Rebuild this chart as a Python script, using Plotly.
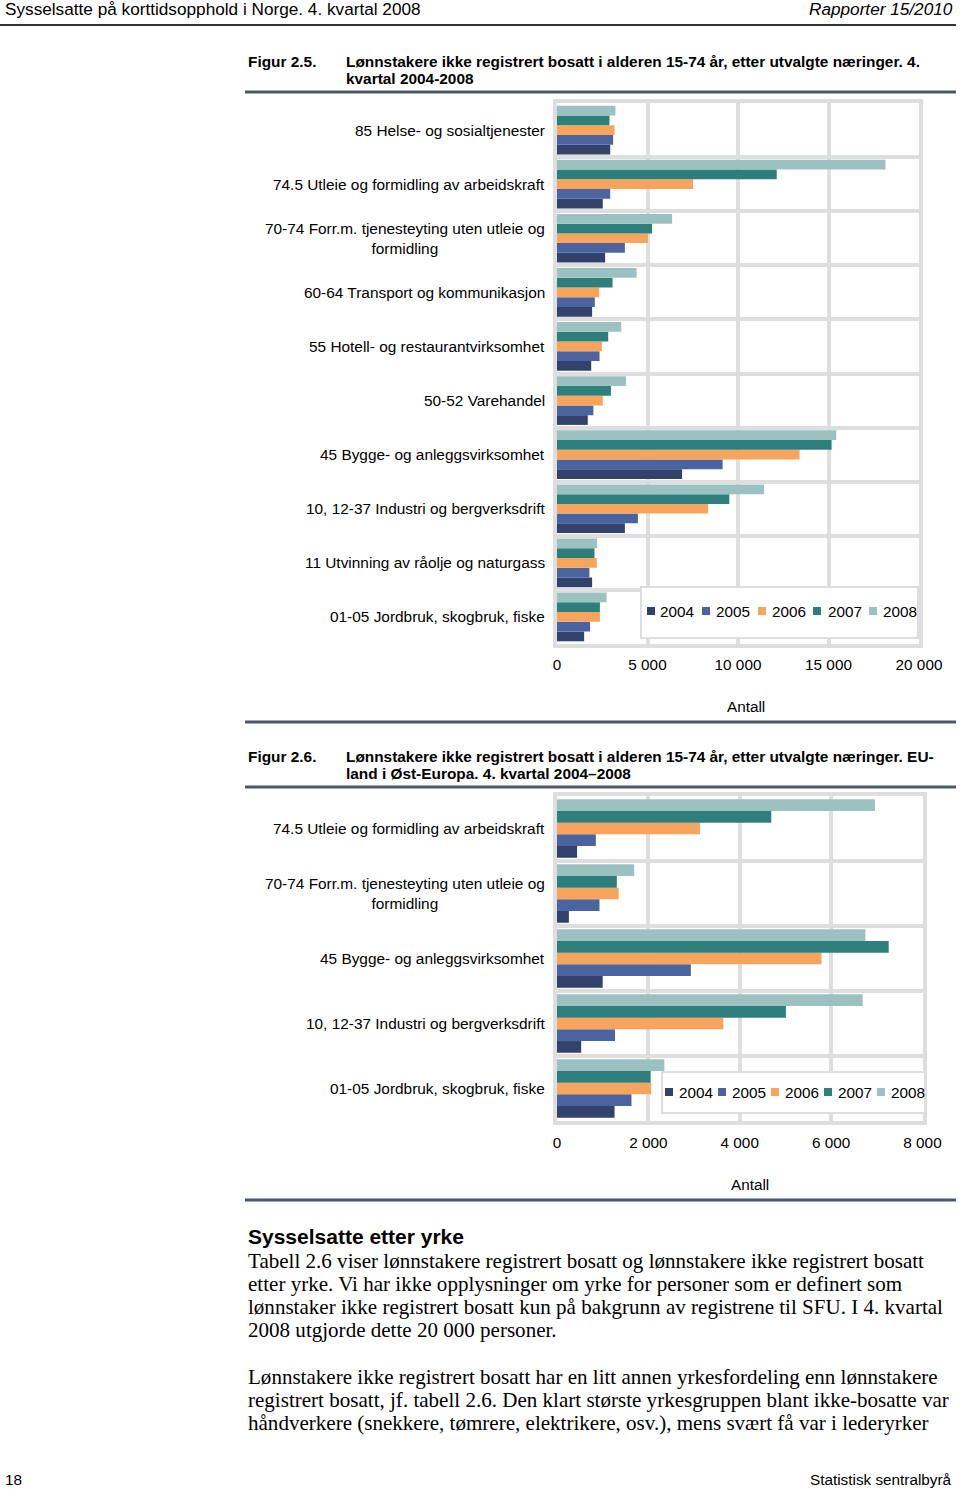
import plotly.graph_objects as go

W, H = 960, 1489

years = ["2004", "2005", "2006", "2007", "2008"]
colors = ["#33426b", "#4b64a0", "#f7a55c", "#2e7f7c", "#9bc2c1"]

# Figure 2.5 data (top to bottom)
cats1 = [
    "85 Helse- og sosialtjenester",
    "74.5 Utleie og formidling av arbeidskraft",
    "70-74 Forr.m. tjenesteyting uten utleie og<br>formidling",
    "60-64 Transport og kommunikasjon",
    "55 Hotell- og restaurantvirksomhet",
    "50-52 Varehandel",
    "45 Bygge- og anleggsvirksomhet",
    "10, 12-37 Industri og bergverksdrift",
    "11 Utvinning av råolje og naturgass",
    "01-05 Jordbruk, skogbruk, fiske",
]
vals1 = {
    "2004": [2940, 2530, 2660, 1940, 1890, 1700, 6910, 3750, 1940, 1500],
    "2005": [3100, 2940, 3750, 2090, 2350, 2010, 9150, 4470, 1790, 1830],
    "2006": [3180, 7520, 5030, 2330, 2480, 2530, 13400, 8350, 2200, 2370],
    "2007": [2900, 12140, 5250, 3070, 2830, 2980, 15170, 9520, 2070, 2370],
    "2008": [3230, 18150, 6360, 4400, 3550, 3810, 15430, 11440, 2220, 2740],
}
ticks1 = [0, 5000, 10000, 15000, 20000]
ticktext1 = ["0", "5 000", "10 000", "15 000", "20 000"]

# Figure 2.6 data (top to bottom)
cats2 = [
    "74.5 Utleie og formidling av arbeidskraft",
    "70-74 Forr.m. tjenesteyting uten utleie og<br>formidling",
    "45 Bygge- og anleggsvirksomhet",
    "10, 12-37 Industri og bergverksdrift",
    "01-05 Jordbruk, skogbruk, fiske",
]
vals2 = {
    "2004": [440, 260, 1000, 530, 1260],
    "2005": [850, 930, 2930, 1270, 1630],
    "2006": [3130, 1350, 5790, 3640, 2060],
    "2007": [4690, 1310, 7260, 5010, 2050],
    "2008": [6960, 1690, 6750, 6690, 2350],
}
ticks2 = [0, 2000, 4000, 6000, 8000]
ticktext2 = ["0", "2 000", "4 000", "6 000", "8 000"]

SANS = "Liberation Sans, Arial, sans-serif"
SERIF = "Liberation Serif, Times New Roman, serif"
GRID = "#dedede"
FS = 15.3


def px(x):
    return x / W


def py(y):
    return 1 - y / H


fig = go.Figure()
for i, yr in enumerate(years):
    fig.add_trace(go.Bar(
        y=cats1, x=vals1[yr], orientation="h", name=yr,
        marker=dict(color=colors[i], line=dict(width=0)),
        xaxis="x", yaxis="y", showlegend=False,
    ))
for i, yr in enumerate(years):
    fig.add_trace(go.Bar(
        y=cats2, x=vals2[yr], orientation="h", name=yr,
        marker=dict(color=colors[i], line=dict(width=0)),
        xaxis="x2", yaxis="y2", showlegend=False,
    ))

axis_common = dict(
    showgrid=True, gridcolor=GRID, gridwidth=4,
    showline=True, linecolor=GRID, linewidth=4, mirror=True,
    zeroline=False, fixedrange=True, automargin=False,
)

# plot-area pixel boxes
c1 = dict(x0=557, x1=919, y0=103, y1=644)
c2 = dict(x0=557, x1=922.5, y0=796, y1=1121)

fig.update_layout(
    width=W, height=H, autosize=False,
    margin=dict(l=0, r=0, t=0, b=0, pad=0, autoexpand=False),
    paper_bgcolor="white", plot_bgcolor="white",
    barmode="group", bargap=0.1, bargroupgap=0,
    showlegend=False,
    font=dict(family=SANS, size=FS, color="#000000"),
    xaxis=dict(
        domain=[px(c1["x0"]), px(c1["x1"])], anchor="y",
        range=[0, 20000], tickvals=ticks1, ticktext=ticktext1,
        ticks="", ticklabelstandoff=4, tickfont=dict(size=FS, family=SANS),
        **axis_common,
    ),
    yaxis=dict(
        domain=[py(c1["y1"]), py(c1["y0"])], anchor="x",
        type="category", categoryorder="array", categoryarray=cats1[::-1],
        range=[-0.5, len(cats1) - 0.5], tickson="boundaries",
        showticklabels=False, ticks="",
        **axis_common,
    ),
    xaxis2=dict(
        domain=[px(c2["x0"]), px(c2["x1"])], anchor="y2",
        range=[0, 8000], tickvals=ticks2, ticktext=ticktext2,
        ticks="", ticklabelstandoff=5, tickfont=dict(size=FS, family=SANS),
        **axis_common,
    ),
    yaxis2=dict(
        domain=[py(c2["y1"]), py(c2["y0"])], anchor="x2",
        type="category", categoryorder="array", categoryarray=cats2[::-1],
        range=[-0.5, len(cats2) - 0.5], tickson="boundaries",
        showticklabels=False, ticks="",
        **axis_common,
    ),
)

shapes = []
ann = []


def text(x, y, s, size=FS, anchor="left", bold=False, family=SANS, italic=False, align="left"):
    if bold:
        s = "<b>" + s + "</b>"
    if italic:
        s = "<i>" + s + "</i>"
    ann.append(dict(xref="paper", yref="paper", x=px(x), y=py(y), text=s,
                    showarrow=False, xanchor=anchor, yanchor="middle", align=align,
                    borderpad=0,
                    font=dict(size=size, family=family, color="#000000")))


# legend boxes with year keys
legend_specs = [
    dict(box=(641, 918, 587, 638), yc=611,
         sq=[647, 702, 758, 813, 869], tx=[659, 715, 771, 827, 882]),
    dict(box=(662, 925, 1072, 1113), yc=1092,
         sq=[665, 718, 771, 824, 877], tx=[678, 731, 784, 837, 890]),
]
for spec in legend_specs:
    bx0, bx1, by0, by1 = spec["box"]
    shapes.append(dict(type="rect", xref="paper", yref="paper", layer="above",
                       x0=px(bx0), x1=px(bx1), y0=py(by1), y1=py(by0),
                       fillcolor="white", line=dict(color=GRID, width=2)))
    for i, yr in enumerate(years):
        sx = spec["sq"][i]
        shapes.append(dict(type="rect", xref="paper", yref="paper", layer="above",
                           x0=px(sx), x1=px(sx + 8), y0=py(spec["yc"] + 4), y1=py(spec["yc"] - 4),
                           fillcolor=colors[i], line=dict(width=0)))
        text(spec["tx"][i], spec["yc"], yr, size=FS)

# rules
RULE = "#4f5668"
for (x0, x1, y, w, c) in [(0, 956, 25, 2, "#333333"), (245, 956, 92, 3, RULE),
                          (245, 956, 722, 3, RULE), (245, 956, 787, 3, RULE),
                          (245, 956, 1200, 3, RULE)]:
    shapes.append(dict(type="line", xref="paper", yref="paper",
                       x0=px(x0), x1=px(x1), y0=py(y), y1=py(y),
                       line=dict(color=c, width=w)))
fig.update_layout(shapes=shapes)

# category labels
LFS = 15.4
for c in cats1:
    ann.append(dict(xref="paper", yref="y", x=px(546), y=c, text=c, showarrow=False,
                    xanchor="right", yanchor="middle", align="center", borderpad=0,
                    font=dict(size=LFS, family=SANS, color="#000000")))
for c in cats2:
    ann.append(dict(xref="paper", yref="y2", x=px(546), y=c, text=c, showarrow=False,
                    xanchor="right", yanchor="middle", align="center", borderpad=0,
                    font=dict(size=LFS, family=SANS, color="#000000")))

# page header / footer
text(4, 9, "Sysselsatte på korttidsopphold i Norge. 4. kvartal 2008", size=17.2)
text(954, 9, "Rapporter 15/2010", size=17.2, anchor="right", italic=True)
text(4, 1479, "18", size=15.3)
text(953, 1479, "Statistisk sentralbyrå", size=15.3, anchor="right")

# figure titles
TFS = 15.4
text(247, 61, "Figur 2.5.", size=TFS, bold=True)
text(345, 61, "Lønnstakere ikke registrert bosatt i alderen 15-74 år, etter utvalgte næringer. 4.", size=TFS, bold=True)
text(345, 79, "kvartal 2004-2008", size=TFS, bold=True)
text(247, 756, "Figur 2.6.", size=TFS, bold=True)
text(345, 756, "Lønnstakere ikke registrert bosatt i alderen 15-74 år, etter utvalgte næringer. EU-", size=TFS, bold=True)
text(345, 773, "land i Øst-Europa. 4. kvartal 2004–2008", size=TFS, bold=True)

# axis titles
text(746, 706, "Antall", size=FS, anchor="center")
text(750, 1184, "Antall", size=FS, anchor="center")

# body text
text(247, 1236, "Sysselsatte etter yrke", size=21, bold=True)
body = [
    (1261, "Tabell 2.6 viser lønnstakere registrert bosatt og lønnstakere ikke registrert bosatt"),
    (1284, "etter yrke. Vi har ikke opplysninger om yrke for personer som er definert som"),
    (1307, "lønnstaker ikke registrert bosatt kun på bakgrunn av registrene til SFU. I 4. kvartal"),
    (1330, "2008 utgjorde dette 20 000 personer."),
    (1377, "Lønnstakere ikke registrert bosatt har en litt annen yrkesfordeling enn lønnstakere"),
    (1400, "registrert bosatt, jf. tabell 2.6. Den klart største yrkesgruppen blant ikke-bosatte var"),
    (1423, "håndverkere (snekkere, tømrere, elektrikere, osv.), mens svært få var i lederyrker"),
]
for y, s in body:
    text(247, y, s, size=21.05, family=SERIF)

fig.update_layout(annotations=ann)

post = """
document.documentElement.style.margin='0';
document.documentElement.style.overflow='hidden';
document.body.style.margin='0';
document.body.style.overflow='hidden';
"""
fig.write_html(
    "out.html",
    config={"displayModeBar": False, "responsive": False},
    post_script=post,
)
